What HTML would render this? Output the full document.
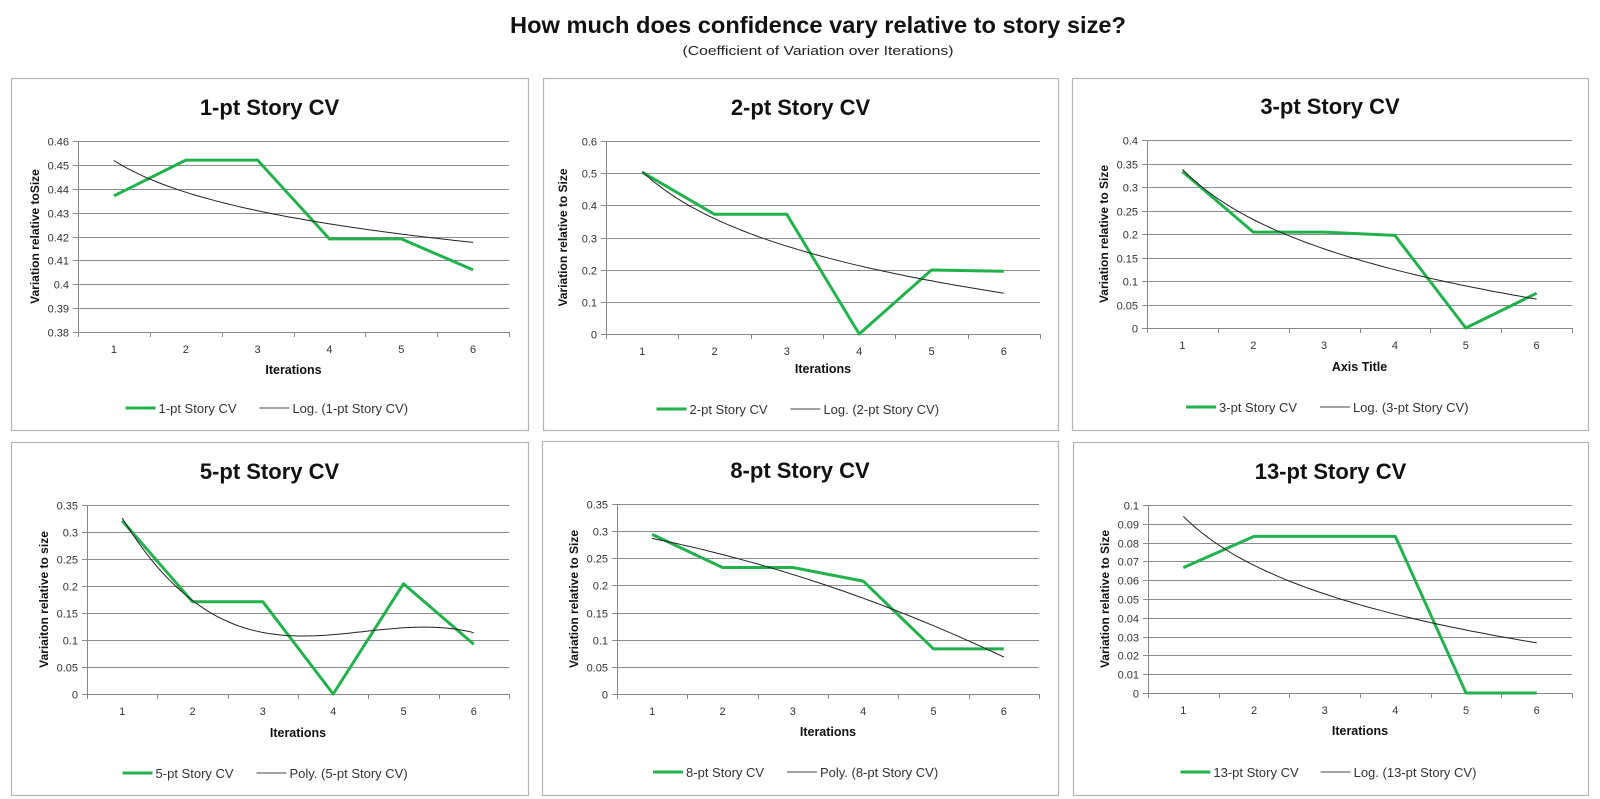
<!DOCTYPE html>
<html><head><meta charset="utf-8">
<style>
html,body{margin:0;padding:0;background:#fff;}
svg{display:block;font-family:"Liberation Sans",Arial,sans-serif;}
</style></head>
<body>
<svg id="root" width="1600" height="799" viewBox="0 0 1600 799" xmlns="http://www.w3.org/2000/svg">
<text x="818" y="33" text-anchor="middle" font-size="23" font-weight="bold" fill="#111" textLength="616" lengthAdjust="spacingAndGlyphs">How much does confidence vary relative to story size?</text>
<text x="818" y="55" text-anchor="middle" font-size="13" fill="#222" textLength="271" lengthAdjust="spacingAndGlyphs">(Coefficient of Variation over Iterations)</text>
</svg>
<script>
// ---- data ----
const categories = [1, 2, 3, 4, 5, 6];
const cv1 = [0.437, 0.452, 0.452, 0.419, 0.419, 0.406];
const cv2 = [0.503, 0.372, 0.372, 0.0, 0.199, 0.195];
const cv3 = [0.333, 0.204, 0.204, 0.197, 0.0, 0.074];
const cv5 = [0.321, 0.171, 0.171, 0.0, 0.204, 0.092];
const cv8 = [0.294, 0.233, 0.233, 0.208, 0.083, 0.083];
const cv13 = [0.0667, 0.0833, 0.0833, 0.0833, 0.0, 0.0];
const ticks1 = ["0.38","0.39","0.4","0.41","0.42","0.43","0.44","0.45","0.46"];
const ticks2 = ["0","0.1","0.2","0.3","0.4","0.5","0.6"];
const ticks3 = ["0","0.05","0.1","0.15","0.2","0.25","0.3","0.35","0.4"];
const ticks5 = ["0","0.05","0.1","0.15","0.2","0.25","0.3","0.35"];
const ticks8 = ["0","0.05","0.1","0.15","0.2","0.25","0.3","0.35"];
const ticks13 = ["0","0.01","0.02","0.03","0.04","0.05","0.06","0.07","0.08","0.09","0.1"];

const panels = [
 {id:"1pt", title:"1-pt Story CV", vals:cv1, ticks:ticks1, trend:"log", tname:"Log. (1-pt Story CV)", ytitle:"Variation relative toSize", xtitle:"Iterations",
  box:[11,78,528,430], plot:[78,141,509,332], tY:107, xtY:369, lgY:408},
 {id:"2pt", title:"2-pt Story CV", vals:cv2, ticks:ticks2, trend:"log", tname:"Log. (2-pt Story CV)", ytitle:"Variation relative to Size", xtitle:"Iterations",
  box:[543,78,1058,430], plot:[606,141,1040,334], tY:107, xtY:368, lgY:409},
 {id:"3pt", title:"3-pt Story CV", vals:cv3, ticks:ticks3, trend:"log", tname:"Log. (3-pt Story CV)", ytitle:"Variation  relative to Size", xtitle:"Axis Title",
  box:[1072,78,1588,430], plot:[1147,140,1572,328], tY:106, xtY:366, lgY:407},
 {id:"5pt", title:"5-pt Story CV", vals:cv5, ticks:ticks5, trend:3, tname:"Poly. (5-pt Story CV)", ytitle:"Variaiton  relative to size", xtitle:"Iterations",
  box:[11,442,528,795], plot:[87,505,509,694], tY:471, xtY:732, lgY:773},
 {id:"8pt", title:"8-pt Story CV", vals:cv8, ticks:ticks8, trend:2, tname:"Poly. (8-pt Story CV)", ytitle:"Variation  relative to Size", xtitle:"Iterations",
  box:[542,441,1058,795], plot:[617,504,1039,694], tY:470, xtY:731, lgY:772},
 {id:"13pt", title:"13-pt Story CV", vals:cv13, ticks:ticks13, trend:"log", tname:"Log. (13-pt Story CV)", ytitle:"Variation  relative to Size", xtitle:"Iterations",
  box:[1073,442,1588,795], plot:[1148,505,1572,693], tY:471, xtY:730, lgY:772}
];

const NS = "http://www.w3.org/2000/svg";
const root = document.getElementById("root");
function mk(tag, attrs, parent){
  const e = document.createElementNS(NS, tag);
  for (const k in attrs) e.setAttribute(k, attrs[k]);
  (parent || root).appendChild(e);
  return e;
}
function solve(A, b){
  const n = b.length;
  for (let i=0;i<n;i++){
    let p=i; for(let r=i+1;r<n;r++) if(Math.abs(A[r][i])>Math.abs(A[p][i])) p=r;
    [A[i],A[p]]=[A[p],A[i]]; [b[i],b[p]]=[b[p],b[i]];
    for(let r=i+1;r<n;r++){const f=A[r][i]/A[i][i]; for(let c=i;c<n;c++) A[r][c]-=f*A[i][c]; b[r]-=f*b[i];}
  }
  const x=new Array(n).fill(0);
  for(let i=n-1;i>=0;i--){let s=b[i]; for(let c=i+1;c<n;c++) s-=A[i][c]*x[c]; x[i]=s/A[i][i];}
  return x;
}
function fitFn(xs, ys, kind){
  if (kind === "log"){
    const lx = xs.map(Math.log);
    const mx = lx.reduce((a,b)=>a+b,0)/lx.length, my = ys.reduce((a,b)=>a+b,0)/ys.length;
    let sxy=0, sxx=0;
    lx.forEach((v,i)=>{sxy+=(v-mx)*(ys[i]-my); sxx+=(v-mx)*(v-mx);});
    const b = sxy/sxx, a = my - b*mx;
    return x => a + b*Math.log(x);
  }
  const d = kind, n = d+1;
  const A = Array.from({length:n},()=>new Array(n).fill(0)), B = new Array(n).fill(0);
  xs.forEach((x,k)=>{
    for(let i=0;i<n;i++){ B[i]+=ys[k]*Math.pow(x,i); for(let j=0;j<n;j++) A[i][j]+=Math.pow(x,i+j); }
  });
  const c = solve(A,B);
  return x => c.reduce((s,ci,i)=>s+ci*Math.pow(x,i),0);
}

panels.forEach(p => {
  const g = mk("g", {});
  
  
  const [bx0,by0,bx1,by1] = p.box;
  const box = mk("rect", {x:bx0+0.5, y:by0+0.5, width:bx1-bx0, height:by1-by0, fill:"#fff", stroke:"#b4b4b4", "stroke-width":1.2}, g);
  
  
  const [L,T,R,Bt] = p.plot;
  const nums = p.ticks.map(Number);
  const ymin = nums[0], ymax = nums[nums.length-1];
  const yS = v => Bt - (v - ymin)/(ymax - ymin)*(Bt - T);
  const band = (R - L)/categories.length;
  const xS = c => L + band*(categories.indexOf(c) + 0.5);
  const xN = x => L + band*(x - categories[0] + 0.5);

  const t = mk("text", {x:(bx0+bx1)/2, y:p.tY+8, "text-anchor":"middle", "font-size":22, "font-weight":"bold", fill:"#111"}, g);
  t.textContent = p.title;
  
  

  // gridlines + y tick labels
  p.ticks.forEach((lab,i) => {
    const y = Math.round(yS(nums[i]))+0.5;
    const gl = mk("line", {x1:L-5, x2:R, y1:y, y2:y, stroke:i===0?"#868686":"#8c8c8c", "stroke-width":1}, g);
    
    
    const tl = mk("text", {x:L-9, y:y+4, "text-anchor":"end", "font-size":11, fill:"#333"}, g);
    tl.textContent = lab;
    
    
  });
  const ya = mk("line", {x1:L+0.5, x2:L+0.5, y1:T, y2:Bt+5, stroke:"#868686"}, g);
  
  
  for (let i=0;i<=categories.length;i++){
    const x = Math.round(L + band*i)+0.5;
    mk("line", {x1:x, x2:x, y1:Bt, y2:Bt+5, stroke:"#868686"}, g);
  }
  categories.forEach(c => {
    const xl = mk("text", {x:xS(c), y:Bt+21, "text-anchor":"middle", "font-size":11, fill:"#333"}, g);
    xl.textContent = c;
    
    
  });
  const xt = mk("text", {x:(L+R)/2, y:p.xtY+5, "text-anchor":"middle", "font-size":12.5, "font-weight":"bold", fill:"#111"}, g);
  xt.textContent = p.xtitle;
  
  
  const yx = L - 42, yc = (T+Bt)/2;
  const yt = mk("text", {x:yx, y:yc, "text-anchor":"middle", "font-size":12, "font-weight":"bold", fill:"#111", transform:`rotate(-90 ${yx} ${yc})`, "dominant-baseline":"middle"}, g);
  yt.textContent = p.ytitle;
  
  

  // series
  const sp = mk("polyline", {points:categories.map((c,i)=>xS(c).toFixed(1)+","+yS(p.vals[i]).toFixed(1)).join(" "), fill:"none", stroke:"#22b14c", "stroke-width":3, "stroke-linejoin":"round"}, g);
  
  
  // trend
  const f = fitFn(categories, p.vals, p.trend);
  const pts = [];
  for (let k=0;k<=60;k++){ const x = categories[0] + (categories[categories.length-1]-categories[0])*k/60; pts.push(xN(x).toFixed(1)+","+yS(f(x)).toFixed(1)); }
  const tp = mk("polyline", {points:pts.join(" "), fill:"none", stroke:"#222", "stroke-width":1}, g);
  
  

  // legend
  const cx = (bx0+bx1)/2;
  const w1 = 30+4+p.title.length*6.3, w2 = 30+4+p.tname.length*6.0, gap = 18;
  let x0 = cx - (w1+gap+w2)/2;
  const lg = mk("g", {}, g);
  
  
  mk("line", {x1:x0, x2:x0+30, y1:p.lgY, y2:p.lgY, stroke:"#22b14c", "stroke-width":3}, lg);
  const l1 = mk("text", {x:x0+33, y:p.lgY+5, "font-size":13, fill:"#333"}, lg);
  l1.textContent = p.title;
  
  
  x0 += w1 + gap;
  mk("line", {x1:x0, x2:x0+30, y1:p.lgY, y2:p.lgY, stroke:"#444", "stroke-width":1}, lg);
  const l2 = mk("text", {x:x0+33, y:p.lgY+5, "font-size":13, fill:"#333"}, lg);
  l2.textContent = p.tname;
  
  
});
</script>
</body></html>
